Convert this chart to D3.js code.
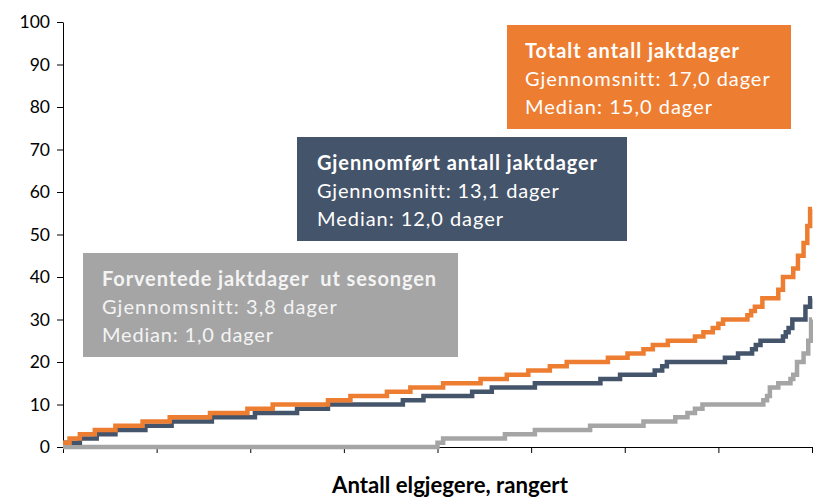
<!DOCTYPE html>
<html><head><meta charset="utf-8">
<script src="https://cdn.jsdelivr.net/npm/d3@7"></script>
<style>
body{margin:0;background:#fff}
svg{display:block}
text{font-family:Lato,'Noto Sans',sans-serif}
</style>
</head><body>
<svg id="c" width="813" height="498"></svg>
<script>
// ---- data ----
const yTickValues = [0,10,20,30,40,50,60,70,80,90,100];
const xTickRanks = [0,100,200,300,400,500,600,700,800];
const nHunters = 800;

// step breakpoints: rank where a new value starts, and that value
const totalRank  = [0,7,18,34,56,85,114,157,197,224,283,307,346,371,406,446,474,497,520,538,582,603,620,630,646,675,684,694,700,705,731,735,739,747,764,769,780,785,791,795,798];
const totalValue = [1,2,3,4,5,6,7,8,9,10,11,12,13,14,15,16,17,18,19,20,21,22,23,24,25,26,27,28,29,30,31,32,33,35,37,40,42,45,48,52,56];

const doneRank  = [0,18,36,56,88,116,159,205,250,283,363,385,437,458,504,574,595,632,640,645,707,721,736,740,745,769,772,775,779,793,798];
const doneValue = [1,2,3,4,5,6,7,8,9,10,11,12,13,14,15,16,17,18,19,20,21,22,23,24,25,26,27,28,30,33,35];

const restRank  = [0,400,406,472,504,563,620,654,667,675,683,748,752,755,764,777,780,784,791,796,799];
const restValue = [0,1,2,3,4,5,6,7,8,9,10,11,12,14,15,16,17,20,22,25,30];

const boxTitles = ["Totalt antall jaktdager","Gjennomført antall jaktdager","Forventede jaktdager  ut sesongen"];
const boxMeans  = ["Gjennomsnitt: 17,0 dager","Gjennomsnitt: 13,1 dager","Gjennomsnitt: 3,8 dager"];
const boxMedians= ["Median: 15,0 dager","Median: 12,0 dager","Median: 1,0 dager"];
const xAxisTitle = "Antall elgjegere, rangert";

// ---- layout ----
const svg = d3.select("#c");
const x = d3.scaleLinear().domain([0,nHunters]).range([63,812]);
const y = d3.scaleLinear().domain([0,100]).range([447,22]);

function fit(el, target, base, lo, hi){
  el.attr("font-size",base);
  const w = el.node().getComputedTextLength();
  let fs = Math.max(lo, Math.min(hi, base*target/w));
  el.attr("font-size",fs);
  const w2 = el.node().getComputedTextLength();
  const n = el.text().length;
  if (Math.abs(w2-target)>3 && n>1) el.attr("letter-spacing",(target-w2)/(n-1));
}

// y axis
const yAxis = d3.axisLeft(y).tickValues(yTickValues).tickSize(6).tickPadding(7).tickSizeOuter(0);
const gy = svg.append("g").attr("transform","translate(63,0)").call(yAxis);
gy.select(".domain").attr("stroke","#000");
gy.selectAll(".tick line").attr("stroke","#000");
gy.selectAll(".tick text").attr("font-size",17.5).attr("fill","#000").attr("font-family","Lato,'Noto Sans',sans-serif");

// x axis
const xAxis = d3.axisBottom(x).tickValues(xTickRanks).tickSize(6).tickFormat("").tickSizeOuter(0);
const gx = svg.append("g").attr("transform","translate(0,447)").call(xAxis);
gx.select(".domain").attr("stroke","#000");
gx.selectAll(".tick line").attr("stroke","#000");

const xt = svg.append("text").attr("x",450).attr("y",493).attr("text-anchor","middle")
  .attr("font-weight","bold").attr("fill","#000").text(xAxisTitle);
fit(xt, 236, 20, 18, 23);

// series
function pts(r,v){ const p = r.map((d,i)=>[d,v[i]]); p.push([nHunters, v[v.length-1]]); return p; }
const line = d3.line().x(d=>x(d[0])).y(d=>y(d[1])).curve(d3.curveStepAfter);
const series = [
  {p:pts(restRank,restValue), c:"#A5A5A5"},
  {p:pts(doneRank,doneValue), c:"#44546A"},
  {p:pts(totalRank,totalValue), c:"#ED7D31"}
];
series.forEach(s=>{
  svg.append("path").attr("d",line(s.p)).attr("fill","none").attr("stroke",s.c)
    .attr("stroke-width",4.5).attr("stroke-linejoin","miter");
});

// annotation boxes
const boxes = [
  {x:507,y:25,w:284,h:104,fill:"#ED7D31",tc:"#fff",tx:18,widths:[214,244,187]},
  {x:297,y:137,w:330,h:104,fill:"#44546A",tc:"#fff",tx:20,widths:[280,241,186]},
  {x:83,y:253,w:375,h:104,fill:"#A5A5A5",tc:"#f4f4f4",tx:19,widths:[334,234,171]}
];
boxes.forEach((b,i)=>{
  const g = svg.append("g");
  g.append("rect").attr("x",b.x).attr("y",b.y).attr("width",b.w).attr("height",b.h).attr("fill",b.fill);
  const lines = [boxTitles[i], boxMeans[i], boxMedians[i]];
  const offs = [33,61,89];
  lines.forEach((t,j)=>{
    const el = g.append("text").attr("x",b.x+b.tx).attr("y",b.y+offs[j]).attr("fill",b.tc)
      .attr("font-weight", j===0?"bold":"normal").style("white-space","pre").text(t);
    fit(el, b.widths[j], 18, 16, 20);
  });
});
</script>
</body></html>
